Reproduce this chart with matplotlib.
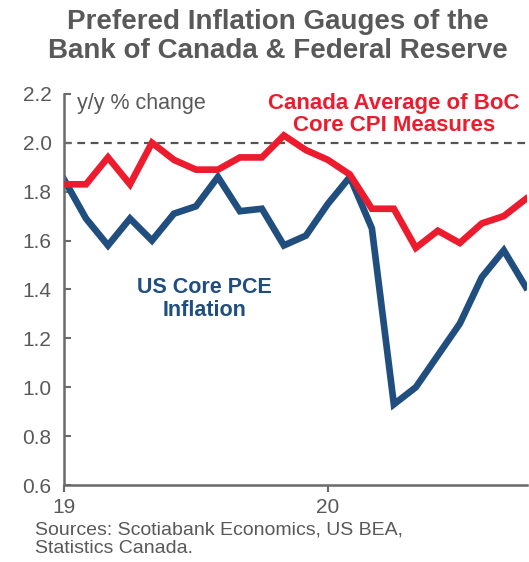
import numpy as np
import matplotlib.pyplot as plt

# monthly data, Jan 2019 .. Oct 2020
months = np.arange(22)
canada_core = [1.83, 1.83, 1.94, 1.83, 2.00, 1.93, 1.89, 1.89, 1.94, 1.94,
               2.03, 1.97, 1.93, 1.87, 1.73, 1.73, 1.57, 1.64, 1.59, 1.67,
               1.70, 1.77]
us_core_pce = [1.85, 1.69, 1.58, 1.69, 1.60, 1.71, 1.74, 1.86, 1.72, 1.73,
               1.58, 1.62, 1.75, 1.86, 1.65, 0.93, 1.00, 1.13, 1.26, 1.45,
               1.56, 1.41]
year_ticks = [0, 12]
year_labels = ["19", "20"]
target = 2.0

gray = "#595959"
red = "#EC1C2E"
blue = "#1F4E7F"

plt.rcParams["font.family"] = ["Liberation Sans", "DejaVu Sans"]

fig = plt.figure(figsize=(5.29, 5.62), dpi=100)
ax = fig.add_axes([0.121, 0.137, 0.875, 0.696])

ax.axhline(target, color="#555555", lw=1.6, ls=(0, (3.5, 2.5)), zorder=1)
ax.plot(months, canada_core, color=red, lw=4.8, solid_joinstyle="miter", zorder=3)
ax.plot(months, us_core_pce, color=blue, lw=4.8, solid_joinstyle="miter", zorder=2)

ax.set_xlim(0, 21.05)
ax.set_ylim(0.6, 2.2)
ax.set_yticks(np.arange(0.6, 2.21, 0.2))
ax.set_yticklabels(["%.1f" % v for v in np.arange(0.6, 2.21, 0.2)])
ax.set_xticks(year_ticks)
ax.set_xticklabels(year_labels)

for s in ["top", "right"]:
    ax.spines[s].set_visible(False)
for s in ["left", "bottom"]:
    ax.spines[s].set_color("#6b6b6b")
    ax.spines[s].set_linewidth(1.8)

ax.tick_params(axis="y", direction="in", length=5, width=1.5, color="#6b6b6b",
               labelsize=15, labelcolor=gray, pad=9)
ax.tick_params(axis="x", direction="out", length=5, width=1.5, color="#6b6b6b",
               labelsize=15, labelcolor=gray, pad=4)

ax.text(0.6, 2.16, "y/y % change", fontsize=15.5, color=gray, va="center", ha="left")
ax.text(15.0, 2.115, "Canada Average of BoC\nCore CPI Measures", fontsize=16,
        color=red, fontweight="bold", ha="center", va="center", linespacing=1.1)
ax.text(6.4, 1.36, "US Core PCE\nInflation", fontsize=15.5, color=blue,
        fontweight="bold", ha="center", va="center", linespacing=1.1)

fig.text(0.525, 0.935, "Prefered Inflation Gauges of the\nBank of Canada & Federal Reserve",
         fontsize=20, fontweight="bold", color=gray, ha="center", va="center",
         linespacing=1.12)
fig.text(0.066, 0.04, "Sources: Scotiabank Economics, US BEA,\nStatistics Canada.",
         fontsize=14, color=gray, ha="left", va="center", linespacing=1.1)

fig.savefig("out.png", dpi=100)
